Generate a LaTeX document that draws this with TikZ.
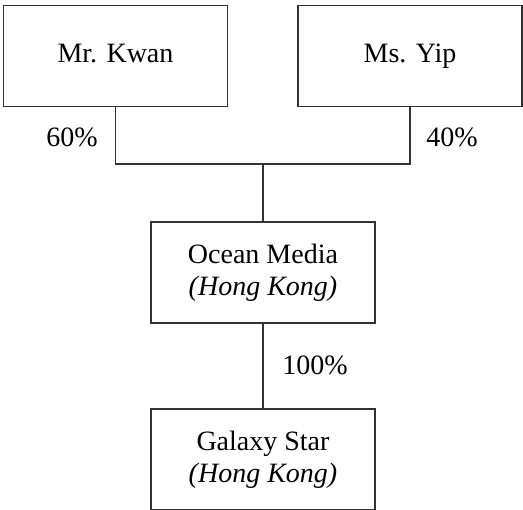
\documentclass[tikz,border=0pt]{standalone}
\usepackage{fontspec}
\setmainfont{Liberation Serif}
\usepackage{xcolor}
\definecolor{linegray}{HTML}{333333}
\tikzset{
  firm/.style={draw=linegray, line width=1.1pt, minimum width=224pt, minimum height=101pt,
    align=center, inner sep=0pt, font=\fontsize{28}{32}\selectfont},
  share/.style={font=\fontsize{28}{32}\selectfont, inner sep=0pt},
}
\begin{document}
\begin{tikzpicture}[x=1pt, y=-1pt]
  \useasboundingbox (0,0) rectangle (523,510);
  \node[firm] (kwan) at (115.5,56) {\strut Mr. Kwan};
  \node[firm] (yip) at (410,56) {\strut Ms. Yip};
  \node[firm] (ocean) at (263,272.5) {Ocean Media\\\textit{(Hong Kong)}};
  \node[firm] (galaxy) at (263,459.5) {Galaxy Star\\\textit{(Hong Kong)}};
  \coordinate (join) at (263,164);
  \draw[linegray, line width=1.1pt] (kwan.south) |- (join);
  \draw[linegray, line width=1.1pt] (yip.south) |- (join);
  \draw[linegray, line width=1.1pt] (join) -- (ocean.north);
  \draw[linegray, line width=1.1pt] (ocean.south) -- (galaxy.north);
  \node[share] (pkwan) at (72,137) {60\%};
  \node[share] (pyip) at (452,137) {40\%};
  \node[share] (pocean) at (315,365) {100\%};
\end{tikzpicture}
\end{document}
